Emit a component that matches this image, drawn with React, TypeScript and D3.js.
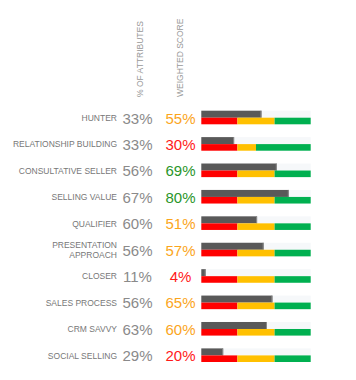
import React from "react";
import * as d3 from "d3";

const categories = [
  "HUNTER",
  "RELATIONSHIP BUILDING",
  "CONSULTATIVE SELLER",
  "SELLING VALUE",
  "QUALIFIER",
  "PRESENTATION\nAPPROACH",
  "CLOSER",
  "SALES PROCESS",
  "CRM SAVVY",
  "SOCIAL SELLING",
];
const pctAttributes = [33, 33, 56, 67, 60, 56, 11, 56, 63, 29];
const weightedScore = [55, 30, 69, 80, 51, 57, 4, 65, 60, 20];
const redLimit = [33, 33, 33, 33, 33, 33, 33, 33, 33, 33];
const yellowLimit = [67, 50, 67, 67, 67, 67, 67, 67, 67, 67];
const headers = ["% OF ATTRIBUTES", "WEIGHTED SCORE"];

const W = 356;
const H = 380;

function scoreColor(v: number, r: number, y: number) {
  if (v < r) return "#ff1a1a";
  if (v < y) return "#fba51c";
  return "#2a962a";
}

export default function App() {
  const x = d3.scaleLinear().domain([0, 100]).range([201.3, 310.7]);
  const y = d3
    .scalePoint<string>()
    .domain(categories)
    .range([118, 355.7]);
  const font = "'Liberation Sans', Arial, sans-serif";
  return (
    <svg
      width={W}
      height={H}
      style={{ position: "absolute", left: 0, top: 0, background: "#fff" }}
      fontFamily={font}
    >
      <text
        transform="translate(143,97) rotate(-90)"
        fontSize={8.5}
        fill="#999"
      >
        {headers[0]}
      </text>
      <text
        transform="translate(183,97) rotate(-90)"
        fontSize={8.5}
        fill="#999"
      >
        {headers[1]}
      </text>
      {categories.map((c, i) => {
        const cy = y(c) as number;
        const lines = c.split("\n");
        const r = redLimit[i];
        const yl = yellowLimit[i];
        return (
          <g key={c}>
            {lines.length === 1 ? (
              <text x={117} y={cy + 3} textAnchor="end" fontSize={8.5} fill="#777">
                {c}
              </text>
            ) : (
              lines.map((l, k) => (
                <text
                  key={k}
                  x={117}
                  y={cy - 2.5 + k * 10.5}
                  textAnchor="end"
                  fontSize={8.5}
                  fill="#777"
                >
                  {l}
                </text>
              ))
            )}
            <text x={137.5} y={cy + 5.5} textAnchor="middle" fontSize={15} fill="#8a8a8a">
              {pctAttributes[i]}%
            </text>
            <text
              x={180.5}
              y={cy + 5.5}
              textAnchor="middle"
              fontSize={15}
              fill={scoreColor(weightedScore[i], r, yl)}
            >
              {weightedScore[i]}%
            </text>
            <rect
              x={x(0)}
              y={cy - 7.3}
              width={x(100) - x(0)}
              height={7}
              fill="#f6f8fa"
            />
            <rect
              x={x(0)}
              y={cy - 7.3}
              width={x(weightedScore[i]) - x(0)}
              height={7}
              fill="#595959"
            />
            <rect
              x={x(weightedScore[i]) - 1}
              y={cy - 7.3}
              width={1}
              height={7}
              fill="#8c8c8c"
            />
            <rect x={x(0)} y={cy - 0.3} width={x(r) - x(0)} height={6.6} fill="#ff0000" />
            <rect x={x(r)} y={cy - 0.3} width={x(yl) - x(r)} height={6.6} fill="#ffc000" />
            <rect x={x(yl)} y={cy - 0.3} width={x(100) - x(yl)} height={6.6} fill="#00b050" />
          </g>
        );
      })}
    </svg>
  );
}
